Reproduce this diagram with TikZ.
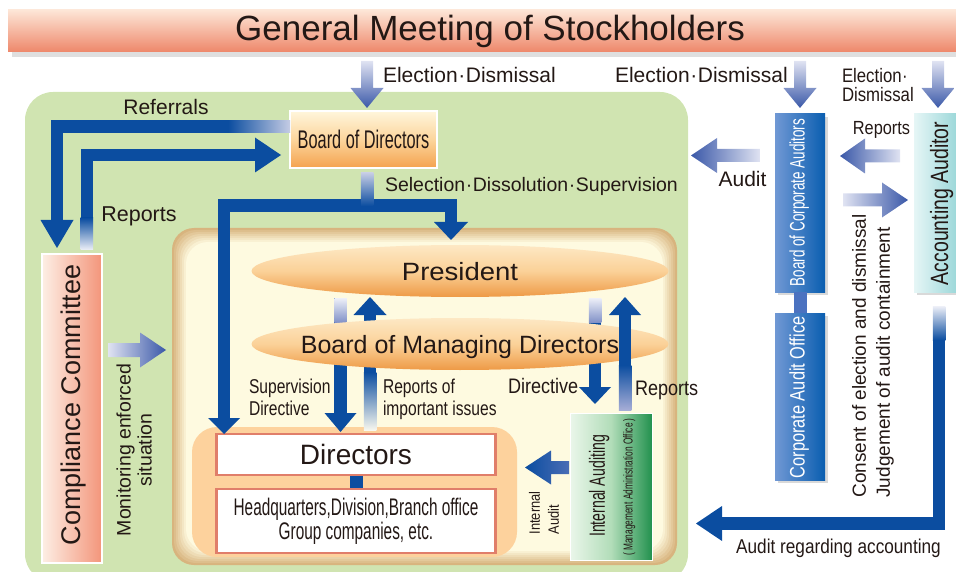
\documentclass[tikz,border=0pt]{standalone}
\usepackage{fontspec}
\setmainfont{Liberation Sans}
\newfontfamily\fB[FakeStretch=0.86]{Liberation Sans}
\newfontfamily\fC[FakeStretch=0.78]{Liberation Sans}
\newfontfamily\fD[FakeStretch=0.64]{Liberation Sans}
\newfontfamily\fE[FakeStretch=1.1]{Liberation Sans}
\usetikzlibrary{arrows.meta,calc,shapes.geometric,shadows}
\definecolor{dblue}{HTML}{0B4DA0}
\definecolor{lav}{HTML}{E0E3F2}
\definecolor{gblue}{HTML}{3A58A8}
\definecolor{pgreen}{HTML}{D0E4B1}
\definecolor{tanc}{HTML}{D8B47E}
\definecolor{creamc}{HTML}{FFFBE2}
\definecolor{txt}{HTML}{231815}
\definecolor{bannertop}{HTML}{FDE6D7}
\definecolor{bannerbot}{HTML}{EE876A}
\definecolor{bodtop}{HTML}{FFF6DC}
\definecolor{bodmid}{HTML}{FCD59C}
\definecolor{bodbot}{HTML}{F4A24E}
\definecolor{compl}{HTML}{FDEFE5}
\definecolor{compr}{HTML}{F3957A}
\definecolor{elltop}{HTML}{FDE8C4}
\definecolor{ellmid}{HTML}{FBD198}
\definecolor{ellbot}{HTML}{EE9A46}
\definecolor{dirarea}{HTML}{FDD29D}
\definecolor{dirline}{HTML}{E07E6A}
\definecolor{ial}{HTML}{EAF6EA}
\definecolor{iam}{HTML}{B2DDB9}
\definecolor{iar}{HTML}{22914E}
\definecolor{bcal}{HTML}{7098D4}
\definecolor{bcar}{HTML}{0A5EB0}
\definecolor{bcalink}{HTML}{4B72C0}
\definecolor{aal}{HTML}{E6F6F6}
\definecolor{aar}{HTML}{8CD1D3}
\definecolor{fadelav}{HTML}{C5CCE4}
\definecolor{fadewhite}{HTML}{EEF0F8}
\definecolor{fademid}{HTML}{8292C8}
\definecolor{fadecream}{HTML}{F7F7EE}
\definecolor{fadelav2}{HTML}{A6ADD6}
\definecolor{iablue}{HTML}{4A6DB5}

\newcommand\fsz[2]{\fontsize{#1}{#2}\selectfont}
\newcommand\mdot{\kern0.6pt·\kern0.6pt}
% block arrow: #1 shading, #2 tail, #3 tip, #4 shaft half width, #5 head half width, #6 head length
\newcommand\blockarrow[6]{%
  \coordinate (baB) at ($#3!#6!#2$);
  \shade[#1] ($#2!#4!90:#3$) -- ($(baB)!#4!90:#3$) -- ($(baB)!#5!90:#3$) -- #3
    -- ($(baB)!#5!-90:#3$) -- ($(baB)!#4!-90:#3$) -- ($#2!#4!-90:#3$) -- cycle;}

\begin{document}
\begin{tikzpicture}[x=1pt,y=-1pt,
  every node/.style={inner sep=0pt, outer sep=0pt, text=txt},
  darr/.style={draw=dblue, line width=12.5pt, line join=miter},
  wbox/.style={fill=white, draw=dirline, line width=2.2pt},
  ell/.style={ellipse, minimum width=417, minimum height=52, top color=elltop, bottom color=ellbot, middle color=ellmid},
  rtext/.style={rotate=90, text depth=0pt},
  bluebox/.style={left color=bcal, right color=bcar, minimum width=50, drop shadow={shadow xshift=3pt, shadow yshift=-3pt, opacity=0.3}},
  garrow/.style={top color=lav, bottom color=gblue}
]
\useasboundingbox (0,0) rectangle (956,572);
\clip (0,0) rectangle (956,572);

% ---------- panels ----------
\fill[pgreen, rounded corners=28pt] (25,92) rectangle (688,582);
\foreach \i [evaluate=\i as \p using int(100-14*\i)] in {0,...,7}
  \fill[tanc!\p!creamc, rounded corners=22pt] ({172+2*\i},{228+2*\i}) rectangle ({677-2*\i},{565-2*\i});

% ---------- banner ----------
\node[minimum width=964, minimum height=42, top color=bannertop, bottom color=bannerbot,
  drop shadow={shadow xshift=4pt, shadow yshift=-5pt, opacity=0.25},
  font=\fsz{35}{38}] (gm) at (490,31) {General Meeting of Stockholders};

% ---------- Board of Directors ----------
\node[minimum width=147, minimum height=57, draw=white, line width=1.5pt,
  top color=bodtop, bottom color=bodbot, middle color=bodmid, text depth=0pt,
  font=\fD\fsz{25.5}{27}] (bod) at (363.5,139.5) {Board of Directors};

% ---------- Compliance Committee ----------
\node[minimum width=60, minimum height=309, draw=white, line width=1.5pt,
  left color=compl, right color=compr] (comp) at (72,408.5) {};
\node[rtext, font=\fsz{27}{30}] (compt) at (71,405) {Compliance Committee};

% ---------- Directors area ----------
\fill[dirarea, rounded corners=25pt] (192,427) rectangle (517,557);
\node[wbox, minimum width=279, minimum height=41, text depth=0pt, font=\fsz{28}{30}] (dir) at (356,454.5) {Directors};
\node[wbox, minimum width=279, minimum height=64, align=center, font=\fD\fsz{24}{24}] (hq) at (356,521)
  {Headquarters,Division,Branch office\\Group companies, etc.};
\draw[dblue, line width=13pt, shorten <=1.2pt, shorten >=1.2pt] (dir.south) -- (hq.north);

% ---------- Election arrows ----------
\coordinate (e1a) at (367,61);  \coordinate (e1b) at (367,108);
\coordinate (e2a) at (800,61);  \coordinate (e2b) at (800,108);
\coordinate (e3a) at (938,61);  \coordinate (e3b) at (938,108);
\blockarrow{garrow}{(e1a)}{(e1b)}{6pt}{16.5pt}{20pt}
\blockarrow{garrow}{(e2a)}{(e2b)}{6pt}{16.5pt}{20pt}
\blockarrow{garrow}{(e3a)}{(e3b)}{6pt}{16.5pt}{20pt}

% ---------- Referrals / Reports (left) ----------
\coordinate (refS) at ($(bod.west)+(0,-13)$);
\coordinate (refE) at (57,248);
\draw[darr, -{Triangle[width=33pt,length=28pt,line width=0pt]}] (refS) -| (refE);
\shade[left color=dblue, right color=fadelav] (228,120.25) rectangle (290,132.75);

\coordinate (repS) at (86.75,250);
\coordinate (repE) at (281,155);
\draw[darr, -{Triangle[width=35pt,length=26pt,line width=0pt]}] (repS) |- (repE);
\shade[top color=dblue, bottom color=fadewhite] (80.5,218) rectangle (93,250);

% ---------- Selection arrows ----------
\coordinate (selJ) at (367,205.5);
\coordinate (selL) at (224,434);
\coordinate (selR) at (451,240);
\draw[darr, -{Triangle[width=32pt,length=16pt,line width=0pt]}] (selJ) -| (selL);
\draw[darr, -{Triangle[width=34pt,length=18pt,line width=0pt]}] (selJ) -| (selR);
\shade[top color=fadelav, bottom color=dblue] (360.75,173) rectangle (373.25,206);

% ---------- Monitoring arrow ----------
\coordinate (mo1) at (108,350); \coordinate (mo2) at (166,350);
\blockarrow{left color=lav, right color=gblue}{(mo1)}{(mo2)}{7pt}{17.5pt}{26pt}

% ---------- inner arrows (behind ellipses) ----------
\coordinate (sd1) at (340.5,298); \coordinate (sd2) at (340.5,432);
\draw[darr, -{Triangle[width=32pt,length=19pt,line width=0pt]}] (sd1) -- (sd2);
\shade[top color=fadewhite, bottom color=fademid] (334.25,298) rectangle (346.75,322);

\coordinate (ri1) at (370,430); \coordinate (ri2) at (370,297);
\draw[darr, -{Triangle[width=33pt,length=18pt,line width=0pt]}] (ri1) -- (ri2);
\shade[top color=dblue, bottom color=fadecream] (363.75,372) rectangle (376.25,430);

\coordinate (dd1) at (595,298); \coordinate (dd2) at (595,404);
\draw[darr, -{Triangle[width=32pt,length=17pt,line width=0pt]}] (dd1) -- (dd2);
\shade[top color=fadewhite, bottom color=fademid] (588.75,298) rectangle (601.25,322);

% ---------- ellipses ----------
\node[ell] (pres) at (460,271) {};
\node[text depth=0pt, font=\fE\fsz{25}{27}] (prest) at (pres.center) {President};
\node[ell] (bmd) at (460,344) {};
\node[text depth=0pt, font=\fsz{25}{27}] (bmdt) at (bmd.center) {Board of Managing Directors};

% right up arrow over the ellipse
\coordinate (ru1) at (625,410); \coordinate (ru2) at (625,297);
\draw[darr, -{Triangle[width=32pt,length=18pt,line width=0pt]}] (ru1) -- (ru2);
\shade[top color=dblue, bottom color=fadelav2] (618.75,365) rectangle (631.25,410);

% ---------- Internal Auditing ----------
\node[minimum width=82, minimum height=147, draw=white, line width=1pt,
  left color=ial, right color=iar, middle color=iam] (ia) at (611,486.5) {};
\node[rtext, font=\fD\fsz{22}{24}] (iat) at (597,486) {Internal Auditing};
\node[rtext, font=\fD\fsz{13}{14}] (iat2) at (628,487) {(\,Management Administration Office\,)};

\coordinate (iaa1) at (569,467.5); \coordinate (iaa2) at (525,467.5);
\blockarrow{left color=dblue, right color=iablue}{(iaa1)}{(iaa2)}{6.5pt}{17pt}{26pt}

% ---------- right side boxes ----------
\node[bluebox, minimum height=178] (bca) at (800,203) {};
\node[rtext, text=white, font=\fD\fsz{21}{22}] (bcat) at (797,202.5) {Board of Corporate Auditors};
\node[bluebox, minimum height=167] (cao) at (800,396.5) {};
\node[rtext, text=white, font=\fC\fsz{21}{22}] (caot) at (797,397.5) {Corporate Audit Office};
\draw[bcalink, line width=13pt] (bca.south) -- (cao.north);

\node[minimum width=52, minimum height=178, left color=aal, right color=aar,
  drop shadow={shadow xshift=3pt, shadow yshift=-3pt, opacity=0.3}] (aa) at (940,203) {};
\node[rtext, font=\fC\fsz{25}{26}] (aat) at (939,203.5) {Accounting Auditor};

% right side gradient arrows
\coordinate (au1) at (760,155.5); \coordinate (au2) at (691,155.5);
\blockarrow{left color=gblue, right color=lav}{(au1)}{(au2)}{6.5pt}{17.5pt}{26pt}
\coordinate (rp1) at (900,156); \coordinate (rp2) at (840,156);
\blockarrow{left color=gblue, right color=lav}{(rp1)}{(rp2)}{6.5pt}{17.5pt}{25pt}
\coordinate (cs1) at (843,200); \coordinate (cs2) at (908,200);
\blockarrow{left color=lav, right color=gblue}{(cs1)}{(cs2)}{6.5pt}{17.5pt}{26pt}

% audit regarding accounting
\coordinate (ara1) at (939,306); \coordinate (ara2) at (696,523.5);
\draw[darr, -{Triangle[width=35pt,length=26pt,line width=0pt]}] (ara1) |- (ara2);
\shade[top color=fadewhite, bottom color=dblue] (932.75,306) rectangle (945.25,340);

% ---------- labels ----------
\node[anchor=base west, font=\fsz{21}{22}] (l-el1) at (383,82.5) {Election\mdot Dismissal};
\node[anchor=base west, font=\fsz{21}{22}] (l-el2) at (615,82.5) {Election\mdot Dismissal};
\node[anchor=west, align=left, font=\fB\fsz{19.5}{19}] (l-el3) at (842,85.2) {Election\mdot\\Dismissal};
\node[anchor=base, font=\fsz{21}{22}] (l-ref) at (166,114.3) {Referrals};
\node[anchor=base, font=\fsz{21.5}{22}] (l-rep) at (139,221.7) {Reports};
\node[anchor=base west, font=\fsz{19.5}{22}] (l-sel) at (385,191.3) {Selection\mdot Dissolution\mdot Supervision};
\node[anchor=base, font=\fsz{21}{22}] (l-aud) at (742.5,186.7) {Audit};
\node[anchor=base, font=\fB\fsz{19}{22}] (l-rep2) at (881.5,135) {Reports};
\node[rtext, align=center, font=\fsz{19.5}{21}] (l-mon) at (134,450) {Monitoring enforced\\situation};
\node[anchor=west, align=left, font=\fC\fsz{20}{22}] (l-sup) at (249,397) {Supervision\\Directive};
\node[anchor=west, align=left, font=\fC\fsz{20}{22}] (l-rii) at (383,399) {Reports of\\important issues};
\node[anchor=base west, font=\fB\fsz{21}{22}] (l-dir) at (508,393) {Directive};
\node[anchor=base west, font=\fB\fsz{21}{22}] (l-rep3) at (635,395) {Reports};
\node[rotate=90, align=left, font=\fB\fsz{15}{19}] (l-iaud) at (544,513) {Internal\\Audit};
\node[rotate=90, align=left, font=\fsz{19}{24}] (l-cons) at (873,356) {Consent of election and dismissal\\Judgement of audit containment};
\node[anchor=base, font=\fB\fsz{20}{22}] (l-ara) at (838.5,553) {Audit regarding accounting};
\end{tikzpicture}
\end{document}
